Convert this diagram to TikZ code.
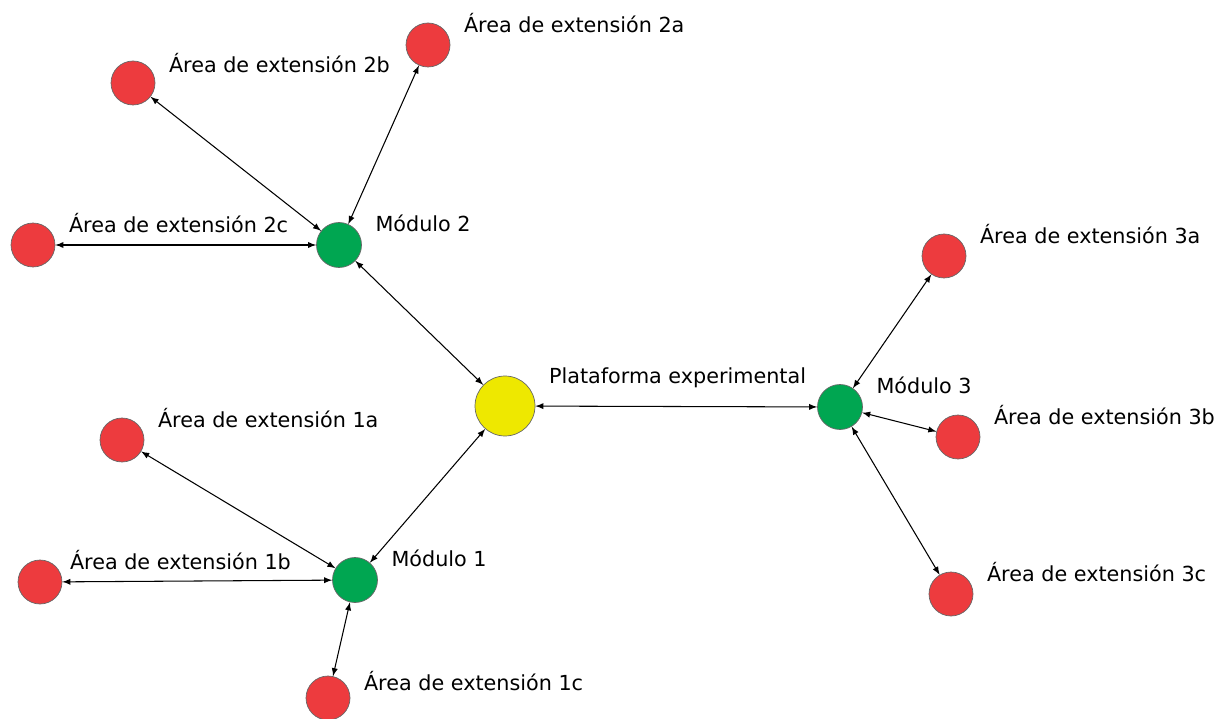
\documentclass[tikz,border=0pt]{standalone}
\usepackage{fontspec}
\setmainfont{DejaVu Sans}
\definecolor{rojo}{RGB}{237,59,62}
\definecolor{verde}{RGB}{0,166,81}
\definecolor{amarillo}{RGB}{238,232,0}

\begin{document}
\begin{tikzpicture}[x=0.02cm, y=-0.02cm,
    every label/.style={font=\fontsize{11.8}{14}\selectfont, xshift=0.15cm, yshift=0.44cm},
    label distance=0pt,
    area/.style={circle, fill=rojo, draw=black!60, minimum size=0.88cm, inner sep=0pt},
    modulo/.style={circle, fill=verde, draw=black!60, minimum size=0.9cm, inner sep=0pt},
    link/.style={latex-latex, semithick}]
\useasboundingbox (0,0) rectangle (1223,719);
% centro
\node[circle, fill=amarillo, draw=black!60, minimum size=1.2cm, inner sep=0pt,
      label={[yshift=0.12cm]right:{Plataforma experimental}}] (pe) at (505,406) {};
% modulos
\node[modulo, label=right:{Módulo 1}] (m1) at (355,580) {};
\node[modulo, label=right:{Módulo 2}] (m2) at (339,245) {};
\node[modulo, label=right:{Módulo 3}] (m3) at (840,407) {};
% areas de extension
\node[area, label=right:{Área de extensión 1a}] (a1a) at (122,440) {};
\node[area, label={[xshift=-0.12cm]right:{Área de extensión 1b}}] (a1b) at (40,582) {};
\node[area, label={[yshift=-0.1cm]right:{Área de extensión 1c}}] (a1c) at (328,698) {};
\node[area, label=right:{Área de extensión 2a}] (a2a) at (428,45) {};
\node[area, label={[yshift=-0.04cm]right:{Área de extensión 2b}}] (a2b) at (133,83) {};
\node[area, label=right:{Área de extensión 2c}] (a2c) at (33,245) {};
\node[area, label=right:{Área de extensión 3a}] (a3a) at (944,256) {};
\node[area, label=right:{Área de extensión 3b}] (a3b) at (958,437) {};
\node[area, label=right:{Área de extensión 3c}] (a3c) at (951,594) {};

\foreach \m in {m1,m2,m3}
  \draw[link] (pe) -- (\m);
\foreach \i/\m in {1/m1,2/m2,3/m3}
  \foreach \a in {a,b,c}
    \draw[link] (\m) -- (a\i\a);
\end{tikzpicture}
\end{document}
